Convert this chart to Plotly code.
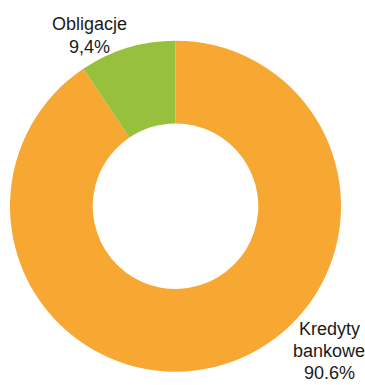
import plotly.graph_objects as go

labels = ["Kredyty bankowe", "Obligacje"]
values = [90.6, 9.4]
label_lines = [["Kredyty", "bankowe", "90.6%"], ["Obligacje", "9,4%"]]
colors = ["#F7A833", "#97C13C"]

W, H = 365, 385
cx, cy, r = 175.5, 206.2, 165.5

fig = go.Figure(go.Pie(
    labels=labels,
    values=values,
    hole=0.5,
    sort=False,
    direction="clockwise",
    rotation=0,
    marker=dict(colors=colors, line=dict(color="white", width=0)),
    textinfo="none",
    hoverinfo="label+percent",
    showlegend=False,
    domain=dict(x=[(cx - r) / W, (cx + r) / W], y=[1 - (cy + r) / H, 1 - (cy - r) / H]),
))

fs = 18
font = dict(family="Liberation Sans, Arial, sans-serif", size=fs, color="#1a1a1a")
# (center x, first baseline, line spacing) for each label block
positions = [(329, 335, 22), (89, 30, 23)]
anns = []
for lines, (x, b0, sp) in zip(label_lines, positions):
    for i, t in enumerate(lines):
        b = b0 + i * sp
        anns.append(dict(text=t, x=x / W, y=1 - (b - 0.33 * fs) / H, xref="paper", yref="paper",
                         showarrow=False, xanchor="center", yanchor="middle", borderpad=0,
                         align="center", font=font))

fig.update_layout(width=W, height=H, margin=dict(l=0, r=0, t=0, b=0),
                  paper_bgcolor="white", plot_bgcolor="white", annotations=anns)
fig.write_html("out.html")
